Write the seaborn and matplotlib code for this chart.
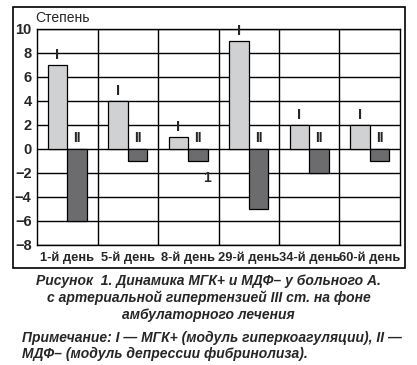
import matplotlib
matplotlib.use('Agg')
import matplotlib.pyplot as plt
import seaborn as sns
import pandas as pd
from matplotlib.patches import Rectangle

days = ['1-й день', '5-й день', '8-й день', '29-й день', '34-й день', '60-й день']
mgk = [7, 4, 1, 9, 2, 2]        # I — МГК+
mdf = [-6, -1, -1, -5, -2, -1]  # II — МДФ–
series = ['I', 'II']

sns.set_style('white')
plt.rcParams['font.family'] = ['Liberation Sans', 'DejaVu Sans']

df = pd.DataFrame({
    'day': days * 2,
    'value': mgk + mdf,
    'series': [series[0]] * len(days) + [series[1]] * len(days),
})

fig = plt.figure(figsize=(4.17, 3.65), dpi=100)
ax = fig.add_axes([0.089, 0.329, 0.870, 0.592])

sns.barplot(data=df, x='day', y='value', hue='series', order=days,
            hue_order=series, palette=['#d0d1d3', '#6b6c6f'],
            width=0.65, edgecolor='black', linewidth=0.9,
            legend=False, ax=ax, zorder=3)

ax.set_ylim(-8, 10)
ax.set_xlim(-0.5, len(days) - 0.5)
ax.set_yticks(range(-8, 11, 2))
for y in range(-8, 11, 2):
    ax.axhline(y, color='black', lw=1.0, zorder=1)
for x in range(len(days) - 1):
    ax.axvline(x + 0.5, color='black', lw=1.0, zorder=1)
for s in ax.spines.values():
    s.set_color('black')
    s.set_linewidth(1.0)

ax.set_xlabel('')
ax.set_ylabel('')
ax.tick_params(axis='y', length=3, width=1, pad=1, labelsize=10.5)
ax.tick_params(axis='x', length=0, pad=5, labelsize=9.3)
for lab in ax.get_xticklabels() + ax.get_yticklabels():
    lab.set_fontweight('bold')

# series labels above bars
off = 0.65 / 4
for i, v in enumerate(mgk):
    ax.text(i - off, v + 0.2, 'I', ha='center', va='bottom',
            fontsize=10.5, fontweight='bold')
    ax.text(i + off, 0.3, 'II', ha='center', va='bottom',
            fontsize=10, fontweight='bold')
ax.text(2.31, -2.45, '1', ha='center', va='center', fontsize=10, fontweight='bold')

fig.text(0.084, 0.951, 'Степень', ha='left', va='center', fontsize=10)

# outer frame
fig.patches.append(Rectangle((0.031, 0.266), 0.940, 0.715, transform=fig.transFigure,
                             fill=False, edgecolor='black', lw=1.2))

caption = ('Рисунок  1. Динамика МГК+ и МДФ– у больного А.\n'
           'с артериальной гипертензией III ст. на фоне\n'
           'амбулаторного лечения')
note = ('Примечание: I — МГК+ (модуль гиперкоагуляции), II —\n'
        'МДФ– (модуль депрессии фибринолиза).')
fig.text(0.5, 0.248, caption, ha='center', va='top', fontsize=10,
         fontweight='bold', style='italic', linespacing=1.2)
fig.text(0.053, 0.094, note, ha='left', va='top', fontsize=10,
         fontweight='bold', style='italic', linespacing=1.2)

fig.savefig('out.png', dpi=100)
